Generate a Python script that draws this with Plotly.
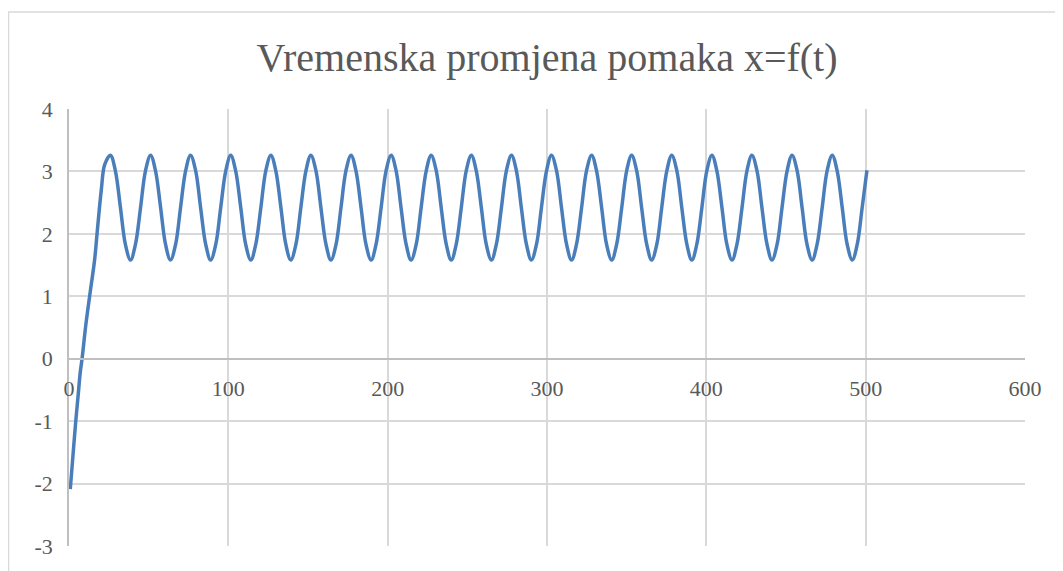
import plotly.graph_objects as go

# time values
t = [0.8, 2.5, 4.2, 5.7, 7.1, 8.2, 10.5, 13.0, 16.1, 17.6, 20.3, 22.4,
     26.0, 29.1, 32.3, 35.4, 38.6, 41.7, 44.9, 48.0,
     51.2, 54.3, 57.5, 60.6, 63.7, 66.9, 70.0, 73.2,
     76.3, 79.5, 82.6, 85.8, 88.9, 92.1, 95.2, 98.4,
     101.5, 104.6, 107.8, 110.9, 114.1, 117.2, 120.4, 123.5,
     126.7, 129.8, 133.0, 136.1, 139.2, 142.4, 145.5, 148.7,
     151.8, 155.0, 158.1, 161.3, 164.4, 167.6, 170.7, 173.8,
     177.0, 180.1, 183.3, 186.4, 189.6, 192.7, 195.9, 199.0,
     202.2, 205.3, 208.4, 211.6, 214.7, 217.9, 221.0, 224.2,
     227.3, 230.5, 233.6, 236.8, 239.9, 243.0, 246.2, 249.3,
     252.5, 255.6, 258.8, 261.9, 265.1, 268.2, 271.4, 274.5,
     277.7, 280.8, 283.9, 287.1, 290.2, 293.4, 296.5, 299.7,
     302.8, 306.0, 309.1, 312.3, 315.4, 318.5, 321.7, 324.8,
     328.0, 331.1, 334.3, 337.4, 340.6, 343.7, 346.9, 350.0,
     353.1, 356.3, 359.4, 362.6, 365.7, 368.9, 372.0, 375.2,
     378.3, 381.5, 384.6, 387.8, 390.9, 394.0, 397.2, 400.3,
     403.5, 406.6, 409.8, 412.9, 416.1, 419.2, 422.4, 425.5,
     428.6, 431.8, 434.9, 438.1, 441.2, 444.4, 447.5, 450.7,
     453.8, 457.0, 460.1, 463.2, 466.4, 469.5, 472.7, 475.8,
     479.0, 482.1, 485.3, 488.4, 491.6, 494.7, 497.8, 500.8]

# displacement values
x = [-2.09, -1.55, -1.01, -0.60, -0.21, 0.00, 0.53, 1.01, 1.59, 2.00, 2.71, 3.11,
     3.26, 3.01, 2.42, 1.83, 1.58, 1.83, 2.42, 3.01,
     3.26, 3.01, 2.42, 1.83, 1.58, 1.83, 2.42, 3.01,
     3.26, 3.01, 2.42, 1.83, 1.58, 1.83, 2.42, 3.01,
     3.26, 3.01, 2.42, 1.83, 1.58, 1.83, 2.42, 3.01,
     3.26, 3.01, 2.42, 1.83, 1.58, 1.83, 2.42, 3.01,
     3.26, 3.01, 2.42, 1.83, 1.58, 1.83, 2.42, 3.01,
     3.26, 3.01, 2.42, 1.83, 1.58, 1.83, 2.42, 3.01,
     3.26, 3.01, 2.42, 1.83, 1.58, 1.83, 2.42, 3.01,
     3.26, 3.01, 2.42, 1.83, 1.58, 1.83, 2.42, 3.01,
     3.26, 3.01, 2.42, 1.83, 1.58, 1.83, 2.42, 3.01,
     3.26, 3.01, 2.42, 1.83, 1.58, 1.83, 2.42, 3.01,
     3.26, 3.01, 2.42, 1.83, 1.58, 1.83, 2.42, 3.01,
     3.26, 3.01, 2.42, 1.83, 1.58, 1.83, 2.42, 3.01,
     3.26, 3.01, 2.42, 1.83, 1.58, 1.83, 2.42, 3.01,
     3.26, 3.01, 2.42, 1.83, 1.58, 1.83, 2.42, 3.01,
     3.26, 3.01, 2.42, 1.83, 1.58, 1.83, 2.42, 3.01,
     3.26, 3.01, 2.42, 1.83, 1.58, 1.83, 2.42, 3.01,
     3.26, 3.01, 2.42, 1.83, 1.58, 1.83, 2.42, 3.01,
     3.26, 3.01, 2.42, 1.83, 1.58, 1.83, 2.42, 3.02]

title_text = "Vremenska promjena pomaka x=f(t)"
x_ticks = [0, 100, 200, 300, 400, 500, 600]
y_ticks = [-3, -2, -1, 0, 1, 2, 3, 4]

FONT = "Liberation Serif"
TXT = "#595959"
GRID = "#d9d9d9"
AXIS = "#bfbfbf"

fig = go.Figure()
fig.add_trace(go.Scatter(
    x=t, y=x, mode="lines",
    line=dict(color="#4a7ebb", width=3.5, shape="spline", smoothing=1.0),
    showlegend=False, hoverinfo="skip",
))

# page body has an 8px offset; figure sized to fit the window
OFF = 8
W, H = 1063 - OFF, 571 - OFF
L = 69 - OFF
T = 109 - OFF
R = W - (1025 - OFF)
B = H - (548 - OFF)

fig.update_layout(
    width=W, height=H,
    margin=dict(l=L, r=R, t=T, b=B, pad=0),
    paper_bgcolor="white", plot_bgcolor="white",
    title=dict(text=title_text, x=0.5, xref="paper", xanchor="center",
               y=1 - (57 - OFF) / H, yref="container", yanchor="middle",
               font=dict(family=FONT, size=40, color=TXT)),
    font=dict(family=FONT, color=TXT),
)

fig.update_xaxes(
    range=[0, 600], tickvals=x_ticks, ticktext=[str(v) for v in x_ticks],
    showgrid=True, gridcolor=GRID, gridwidth=1.5,
    zeroline=False, showline=True, linecolor=AXIS, linewidth=1.5,
    anchor="free", position=3 / 7, ticks="",
    tickfont=dict(family=FONT, size=22, color=TXT),
    ticklabelstandoff=10,
)
fig.update_yaxes(
    range=[-3, 4], tickvals=y_ticks, ticktext=[str(v) for v in y_ticks],
    showgrid=True, gridcolor=GRID, gridwidth=1.5,
    zeroline=True, zerolinecolor=AXIS, zerolinewidth=1.5,
    showline=True, linecolor=AXIS, linewidth=1.5, ticks="",
    tickfont=dict(family=FONT, size=22, color=TXT),
    ticklabelstandoff=10,
)

# outer chart border (extends past the visible window on right/bottom)
pw = W - L - R
ph = H - T - B
fig.add_shape(type="rect", xref="paper", yref="paper",
              x0=(8.5 - OFF - L) / pw, x1=(1080 - OFF - L) / pw,
              y0=(H - B - (590 - OFF)) / ph, y1=(H - B - (11.5 - OFF)) / ph,
              line=dict(color=GRID, width=1.5), fillcolor="rgba(0,0,0,0)",
              layer="below")

fig.write_html("out.html")
